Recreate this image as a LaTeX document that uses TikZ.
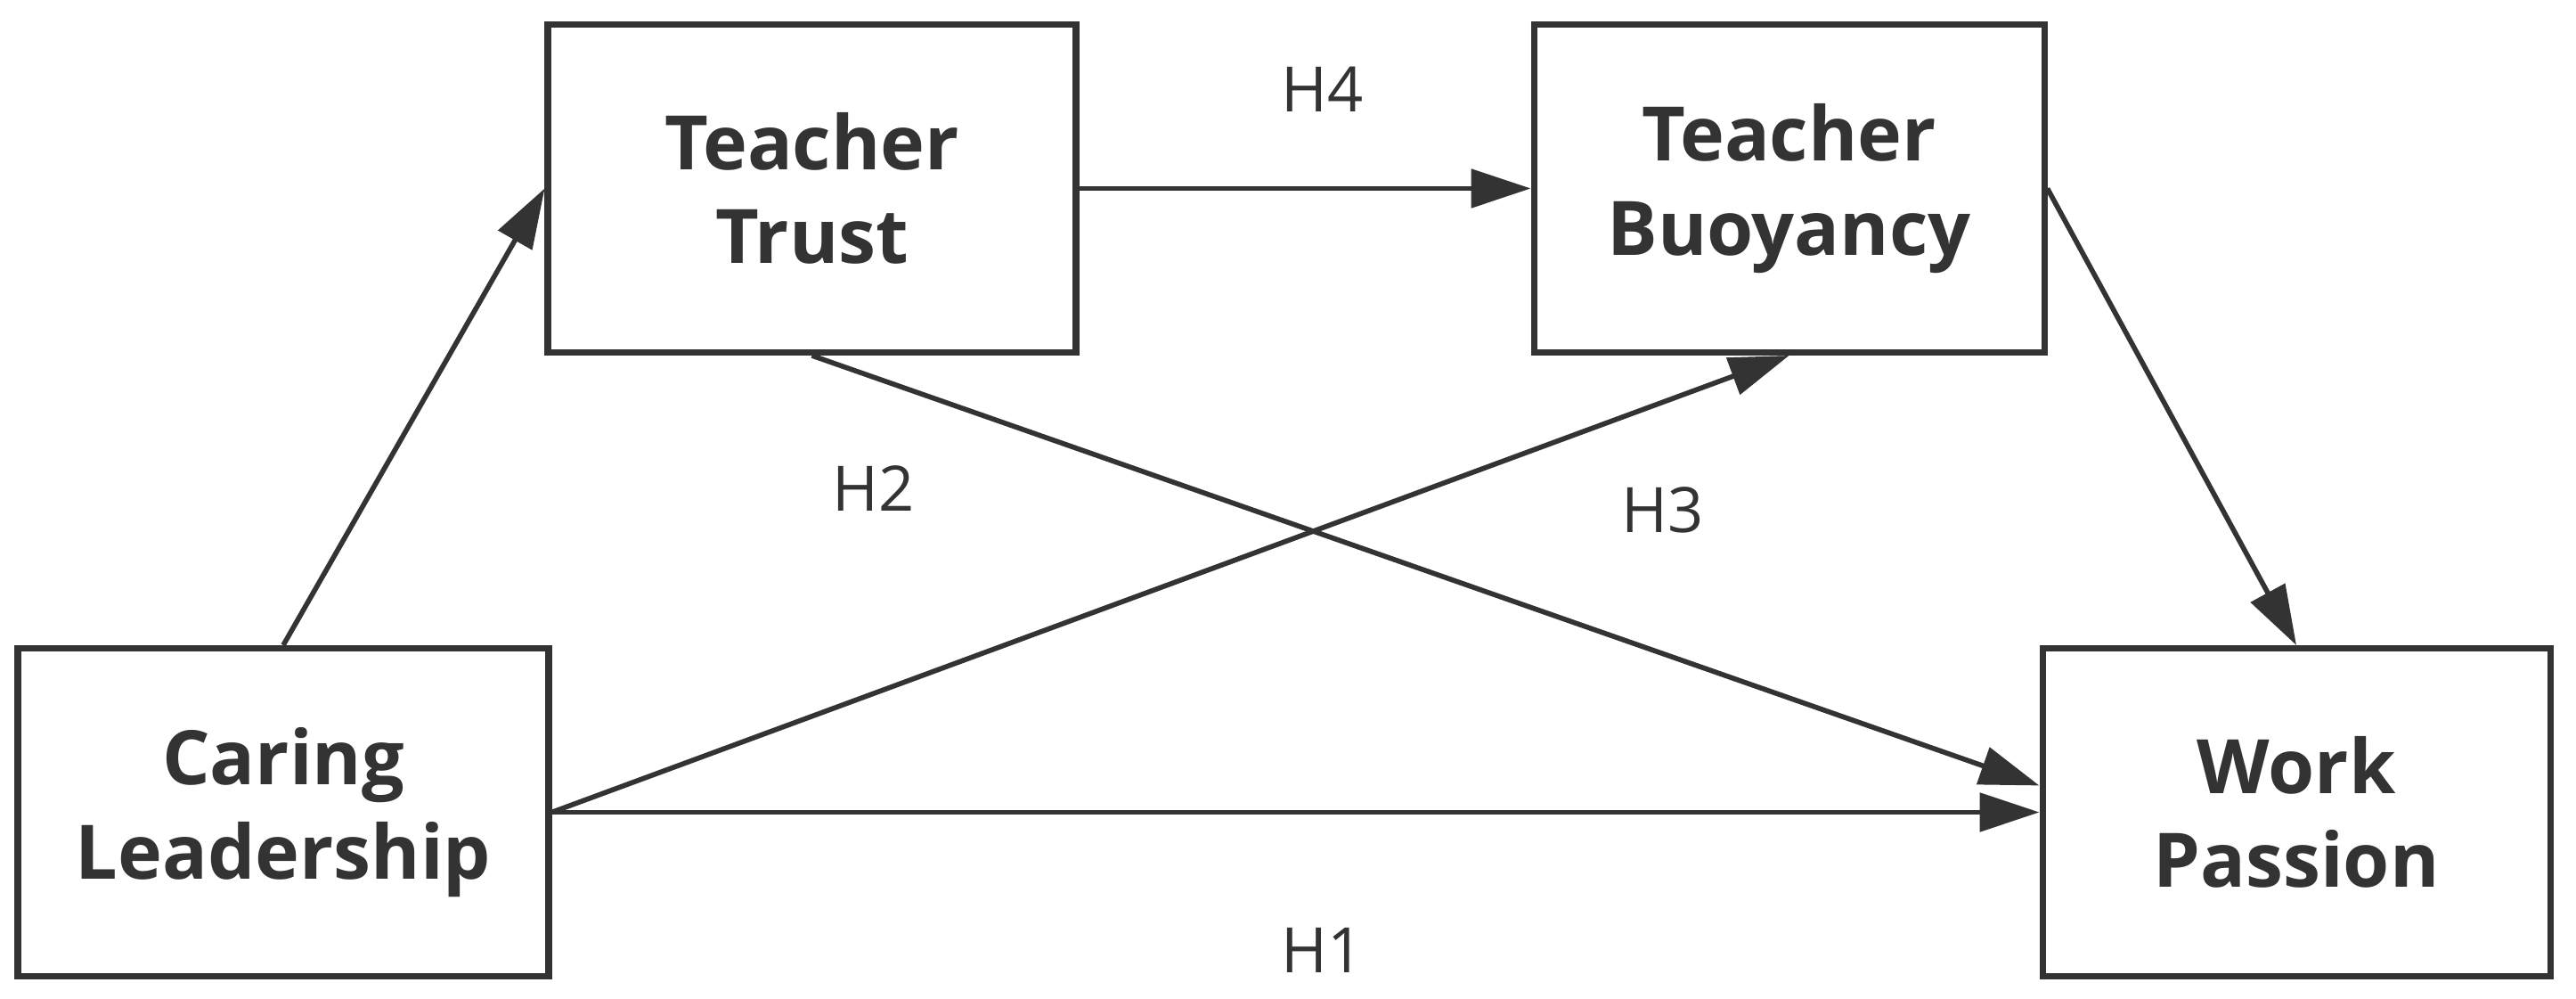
\documentclass[tikz,border=0pt]{standalone}
\usepackage{fontspec}
\setmainfont{Open Sans}
\usetikzlibrary {arrows.meta, positioning}
\definecolor{ink}{HTML}{333333}

\begin{document}
\begin{tikzpicture}[
    ->,
    >={Triangle[length=6.7mm,width=4.3mm]},
    on grid,
    color=ink,
    line width=1.6pt,
    var/.style={draw, line width=2pt, minimum height=3.68cm,
        align=center, font=\fontsize{24}{30}\selectfont\bfseries},
    hyp/.style={font=\fontsize{20}{24}\selectfont},
]
    \useasboundingbox (0,0) rectangle (28.92,11.21);

    \node[var, minimum width=5.96cm]                                   (CL) at (3.18,2.095) {Caring\\Leadership};
    \node[var, minimum width=5.93cm, above right=7cm and 5.935cm of CL] (TT) {Teacher\\Trust};
    \node[var, minimum width=5.73cm, right=10.97cm of TT]               (TB) {Teacher\\Buoyancy};
    \node[var, minimum width=5.70cm, below right=7cm and 5.695cm of TB] (WP) {Work\\Passion};

    \node[hyp] (H1) at (14.85,0.55)  {H1};
    \node[hyp] (H2) at (9.81,5.73)   {H2};
    \node[hyp] (H3) at (18.67,5.49)  {H3};
    \node[hyp] (H4) at (14.85,10.21) {H4};

    \path
        (CL.north) edge (TT.west)
        (TT.east)  edge (TB.west)
        (TT.south) edge ([yshift=3mm]WP.west)
        (CL.east)  edge (TB.south)
        (CL.east)  edge (WP.west)
        (TB.east)  edge (WP.north)
    ;
\end{tikzpicture}
\end{document}
